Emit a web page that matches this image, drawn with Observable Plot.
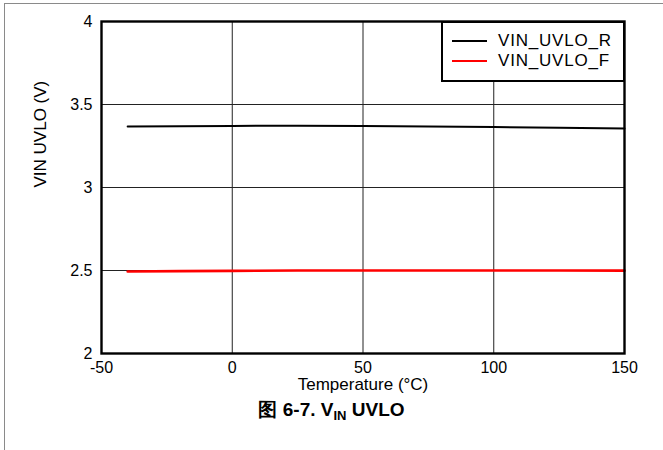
<!DOCTYPE html>
<html>
<head>
<meta charset="utf-8">
<script src="https://cdn.jsdelivr.net/npm/d3@7"></script>
<script src="https://cdn.jsdelivr.net/npm/@observablehq/plot@0.6"></script>
<style>
  html, body { margin: 0; padding: 0; background: #fff; }
  #wrap { position: relative; width: 663px; height: 450px; overflow: hidden; font-family: "Liberation Sans", Arial, sans-serif; }
  #border { position: absolute; left: 4px; top: 3px; width: 700px; height: 500px; border-left: 1.5px solid #8a8a8a; border-top: 1.5px solid #8a8a8a; }
  #chart { position: absolute; left: 0; top: 0; }
  #legend { position: absolute; left: 441px; top: 21px; width: 180px; height: 57px; border: 2px solid #000; background: #fff; }
  .lg { position: absolute; left: 0; height: 20px; font-size: 17px; line-height: 20px; letter-spacing: 0.8px; color: #000; }
  .lg span.sw { position: absolute; left: 9px; top: 9px; width: 35px; height: 0; }
  .lg span.tx { position: absolute; left: 55px; top: 0; white-space: nowrap; }
  #caption { position: absolute; left: 0; width: 663px; top: 398px; text-align: center; font-weight: bold; font-size: 19px; line-height: 24px; }
  #caption sub { font-size: 13px; vertical-align: -4px; }
</style>
</head>
<body>
<div id="wrap">
  <div id="border"></div>
  <div id="chart"></div>
  <div id="legend"></div>
  <div id="caption">图 6-7. V<sub>IN</sub> UVLO</div>
</div>
<script>
const temps   = [-40, -20, 0, 25, 50, 75, 100, 125, 150];
const rising  = [3.367, 3.369, 3.371, 3.372, 3.370, 3.367, 3.364, 3.360, 3.355];
const falling = [2.494, 2.496, 2.498, 2.500, 2.500, 2.500, 2.500, 2.500, 2.499];
const seriesNames = ["VIN_UVLO_R", "VIN_UVLO_F"];
const seriesColors = ["#000000", "#ff0000"];
const xTicks = [-50, 0, 50, 100, 150];
const yTicks = [2, 2.5, 3, 3.5, 4];
const xLabel = "Temperature (°C)";
const yLabel = "VIN UVLO (V)";

const data = [];
temps.forEach((t, i) => {
  data.push({t, v: rising[i], s: seriesNames[0]});
  data.push({t, v: falling[i], s: seriesNames[1]});
});

const chart = Plot.plot({
  width: 663,
  height: 400,
  marginLeft: 101,
  marginRight: 39,
  marginTop: 21,
  marginBottom: 47,
  style: { fontFamily: "'Liberation Sans', Arial, sans-serif", background: "transparent", color: "#000" },
  x: { domain: [-50, 150] },
  y: { domain: [2, 4] },
  color: { domain: seriesNames, range: seriesColors },
  marks: [
    Plot.gridX(xTicks.slice(1, -1), { stroke: "#222", strokeOpacity: 1, strokeWidth: 1 }),
    Plot.gridY(yTicks.slice(1, -1), { stroke: "#222", strokeOpacity: 1, strokeWidth: 1 }),
    Plot.line(data.filter(d => d.s === seriesNames[1]), { x: "t", y: "v", stroke: "s", strokeWidth: 2.6 }),
    Plot.line(data.filter(d => d.s === seriesNames[0]), { x: "t", y: "v", stroke: "s", strokeWidth: 2 }),
    Plot.frame({ stroke: "#000", strokeWidth: 2.4 }),
    Plot.axisX({ ticks: xTicks, tickSize: 0, tickPadding: 8, fontSize: 16, label: null, tickFormat: d => String(d) }),
    Plot.axisY({ ticks: yTicks, tickSize: 0, tickPadding: 9, fontSize: 16, label: null, tickFormat: d => String(d) }),
    Plot.text([xLabel], { frameAnchor: "bottom", dy: 31, fontSize: 17, lineAnchor: "middle" }),
    Plot.text([yLabel], { frameAnchor: "left", dx: -61, rotate: -90, fontSize: 17, lineAnchor: "middle" })
  ]
});
document.getElementById("chart").appendChild(chart);

const legend = document.getElementById("legend");
seriesNames.forEach((name, i) => {
  const row = document.createElement("div");
  row.className = "lg";
  row.style.top = (8 + i * 20) + "px";
  row.style.width = "180px";
  const sw = document.createElement("span");
  sw.className = "sw";
  sw.style.borderTop = (i === 0 ? 2 : 2.6) + "px solid " + seriesColors[i];
  const tx = document.createElement("span");
  tx.className = "tx";
  tx.textContent = name;
  row.appendChild(sw);
  row.appendChild(tx);
  legend.appendChild(row);
});
</script>
</body>
</html>
